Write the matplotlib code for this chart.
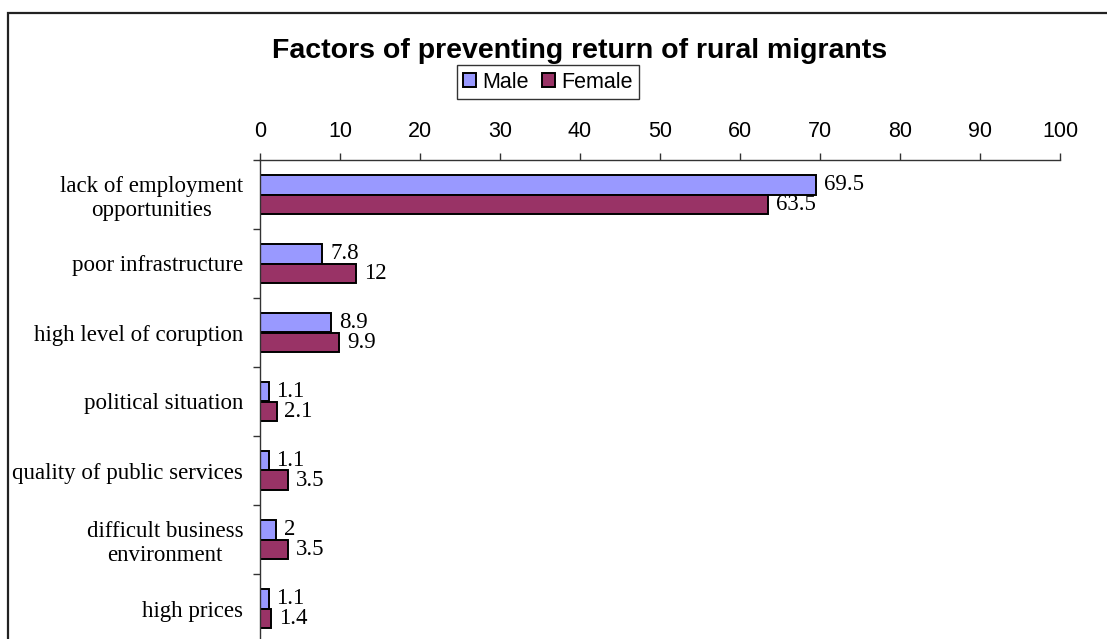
import matplotlib
matplotlib.use("Agg")
import matplotlib.pyplot as plt
from matplotlib.patches import Patch, Rectangle
import numpy as np

categories = ["lack of employment\nopportunities", "poor infrastructure", "high level of coruption",
              "political situation", "quality of public services",
              "difficult business\nenvironment", "high prices"]
male = [69.5, 7.8, 8.9, 1.1, 1.1, 2, 1.1]
female = [63.5, 12, 9.9, 2.1, 3.5, 3.5, 1.4]
male_labels = ["69.5", "7.8", "8.9", "1.1", "1.1", "2", "1.1"]
female_labels = ["63.5", "12", "9.9", "2.1", "3.5", "3.5", "1.4"]
xticks = [0, 10, 20, 30, 40, 50, 60, 70, 80, 90, 100]
title = "Factors of preventing return of rural migrants"

W, H = 1107, 639
fig = plt.figure(figsize=(W / 100, H / 100), dpi=100)

# outer frame (top & left visible, rest off-image)
fig.patches.append(Rectangle((8 / W, -0.1), 1.2, 1 - 13 / H + 0.1, transform=fig.transFigure,
                             fill=False, edgecolor="#222222", linewidth=1.6, zorder=0))

ax = fig.add_axes([260 / W, -4 / H, 800 / W, (643 - 160) / H])

y = np.arange(len(categories))
bh = 0.28
ax.barh(y - bh / 2, male, height=bh, color="#9999FF", edgecolor="black", linewidth=1.4, label="Male")
ax.barh(y + bh / 2, female, height=bh, color="#993366", edgecolor="black", linewidth=1.4, label="Female")

serif = "Liberation Serif"
sans = "Liberation Sans"
for i in range(len(categories)):
    ax.annotate(male_labels[i], (male[i], y[i] - bh / 2), xytext=(5.5, 0), textcoords="offset points",
                va="center", ha="left", fontsize=16.5, family=serif)
    ax.annotate(female_labels[i], (female[i], y[i] + bh / 2), xytext=(5.5, 0), textcoords="offset points",
                va="center", ha="left", fontsize=16.5, family=serif)

ax.set_xlim(0, 100)
ax.set_ylim(len(categories) - 0.5, -0.5)
ax.xaxis.tick_top()
ax.set_xticks(xticks)
ax.set_xticklabels([str(t) for t in xticks], fontsize=15.5, family=sans)
ax.tick_params(axis="x", direction="out", length=5, width=1, pad=8, color="#333333")

ax.set_yticks(y)
ax.set_yticklabels(categories, fontsize=16.5, family=serif, multialignment="center", linespacing=1.2)
ax.tick_params(axis="y", which="major", length=0, pad=12)
ax.set_yticks(np.arange(-0.5, len(categories) + 0.5, 1), minor=True)
ax.tick_params(axis="y", which="minor", length=5, width=1, color="#333333")

for s in ["right", "bottom"]:
    ax.spines[s].set_visible(False)
for s in ["top", "left"]:
    ax.spines[s].set_color("#333333")
    ax.spines[s].set_linewidth(1)

fig.text(580 / W, 1 - 58 / H, title, ha="center", va="baseline", fontsize=20.5,
         fontweight="bold", family=sans)

handles = [Patch(facecolor="#9999FF", edgecolor="black", linewidth=1.4, label="Male"),
           Patch(facecolor="#993366", edgecolor="black", linewidth=1.4, label="Female")]
leg = fig.legend(handles=handles, loc="center", bbox_to_anchor=(548 / W, 1 - 82 / H), ncol=2,
                 frameon=True, fancybox=False, prop={"family": sans, "size": 15.5},
                 handlelength=0.6, handleheight=0.6, handletextpad=0.3, columnspacing=0.6,
                 borderpad=0.3, borderaxespad=0)
leg.get_frame().set_edgecolor("black")
leg.get_frame().set_linewidth(1)

fig.savefig("out.png", dpi=100)
